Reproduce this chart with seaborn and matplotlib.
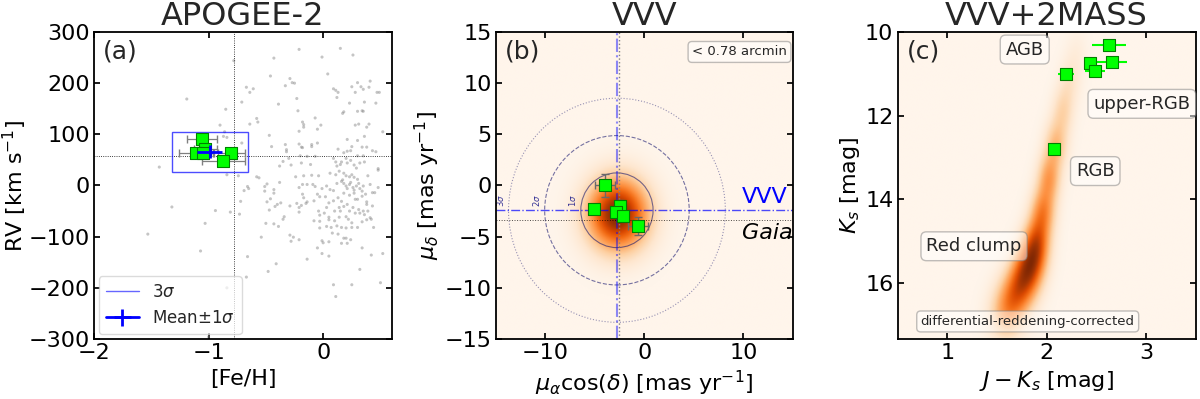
import numpy as np
import seaborn as sns
import matplotlib.pyplot as plt
from matplotlib.patches import Rectangle, Circle
from matplotlib.lines import Line2D

# ---------------- (a) APOGEE-2 ----------------
field_feh = [
    -1.19, -0.85, -0.90, -0.86, -0.87, -0.84, -1.43, -0.84, -1.32, -0.94, -0.81, -1.03, -1.53, -1.07, -0.84, -1.00,
    -0.78, -0.21, 0.15, 0.26, -0.43, -0.01, 0.04, -0.46, -0.29, -0.27, -0.33, -0.25, -0.67, -0.61, -0.64, 0.09,
    0.11, 0.13, 0.12, 0.25, 0.30, 0.33, 0.41, 0.28, 0.35, 0.40, 0.47, 0.49, -0.23, -0.71, -0.39, 0.23,
    0.36, 0.46, 0.18, 0.17, -0.22, 0.30, 0.34, 0.35, -0.07, -0.18, -0.17, -0.17, -0.58, -0.57, -0.64, -0.02,
    -0.05, -0.21, 0.28, 0.31, 0.40, 0.52, 0.38, -0.47, 0.21, 0.30, 0.36, -0.71, -0.45, -0.33, -0.32, -0.32,
    -0.21, -0.19, -0.18, -0.10, -0.05, -0.10, 0.13, 0.25, 0.18, 0.21, 0.24, 0.34, 0.38, 0.43, 0.46, 0.30,
    0.35, -0.38, -0.35, -0.30, -0.28, -0.20, -0.14, -0.07, -0.19, -0.11, 0.09, 0.11, 0.12, 0.15, 0.16, 0.20,
    0.21, 0.24, 0.27, 0.32, 0.29, 0.36, 0.48,
    -0.74, -0.58, -0.56, -0.66, -0.65, -0.69, -0.51, -0.49, -0.51, -0.43, -0.43, -0.38, -0.24, -0.17, -0.10, -0.04,
    0.06, 0.11, 0.14, 0.18, 0.20, 0.23, 0.25, 0.27, 0.30, 0.39, 0.48,
    -0.21, -0.18, -0.14, -0.09, -0.07, -0.01, 0.03, 0.06, 0.09, 0.12, 0.16, 0.17, 0.18, 0.20, 0.21, 0.23,
    0.24, 0.26, 0.27, 0.29, 0.31, 0.32, 0.34, 0.35, 0.37, 0.41, 0.43, 0.45, 0.48,
    0.18, 0.23, 0.27, 0.28, 0.30, 0.34, 0.38, 0.38, 0.43,
    -0.18, -0.17, -0.14, -0.08, -0.05, -0.03, 0.02, 0.05, 0.09, 0.13, 0.16,
    -0.49, -0.46, -0.42, -0.40, -0.37, -0.29, -0.23, -0.21, -0.19, -0.15,
    -0.72, -0.73, -0.47, -0.34, -0.35, -0.21,
    -0.04, -0.03, 0.01, 0.03, 0.05, 0.10, 0.14, 0.15, 0.18, 0.21, 0.23, 0.26, 0.28, 0.31, 0.32, 0.35,
    0.36, 0.38, 0.34, 0.39, 0.41, 0.42,
    0.20, 0.22, 0.25, 0.14, 0.10, 0.05, -0.03, -0.08,
    -0.50, -0.43, -0.39, -0.03, 0.03, 0.07, 0.12, 0.16, 0.20, 0.25, 0.30, 0.44,
    -0.54, -0.29, -0.28, -0.26, -0.21, -0.01, 0.00, 0.05, 0.08, 0.13, 0.16, 0.18, 0.20, 0.21, 0.24,
    -0.05, -0.01, 0.05, 0.34, -0.14, 0.42, 0.52, -0.66, -0.41, -0.48, -0.67, 0.32, 0.09, 0.25, 0.11, 0.50,
]
field_rv = [
    169, 149, 118, 105, 96, 94, 36, 21, -42, -49, -52, -74, -95, -128, -200, -296,
    244, 266, 268, 255, 249, 251, 218, 214, 209, 201, 195, 200, 192, 189, 182, 189,
    186, 182, 172, 193, 201, 193, 204, 182, 188, 192, 182, 182, 170, 163, 159, 161,
    163, 161, 144, 141, 146, 145, 146, 145, 132, 124, 119, 114, 131, 124, 120, 118,
    110, 106, 118, 120, 120, 105, 114, 98, 90, 88, 96, 83, 76, 80, 70, 66,
    81, 75, 74, 80, 83, 76, 71, 76, 64, 67, 68, 75, 75, 68, 66, 58,
    58, 38, 47, 53, 40, 58, 57, 57, 44, 41, 53, 46, 38, 41, 46, 53,
    44, 49, 40, 44, 34, 46, 33,
    19, 17, 15, -2, -6, -10, -2, 3, -11, -8, -15, 6, 17, 19, 20, 19,
    24, 21, 28, 24, 19, 17, 21, 16, 12, 19, 30,
    -4, 2, 2, 2, -2, -6, -1, -8, -10, 4, 8, 11, 4, -1, -6, 2,
    6, -4, -9, -1, 4, -6, -11, -1, -17, 2, -14, -14, -4,
    -15, -19, -15, -27, -27, -21, -32, -37, -40,
    -17, -24, -32, -30, -17, -22, -22, -34, -30, -24, -31,
    -32, -26, -41, -37, -34, -40, -35, -43, -39, -35,
    -31, -56, -48, -61, -66, -52,
    -50, -58, -54, -43, -62, -50, -43, -50, -41, -37, -50, -43, -54, -47, -54, -50,
    -57, -67, -71, -50, -63, -66,
    -61, -66, -73, -62, -69, -67, -70, -69,
    -74, -75, -80, -83, -80, -82, -79, -82, -83, -82, -82, -82,
    -101, -97, -109, -101, -106, -108, -112, -110, -93, -95, -113, -103, -103, -113, -106,
    -122, -133, -138, -122, -144, -136, -133, -139, -153, -168, -179, -164, -194, -194, -217, -190,
]

mem_feh = [-1.06, -1.03, -1.11, -1.05, -0.80, -0.87]
mem_rv = [90, 72, 63, 63, 63, 47]
mem_feh_err = [0.13, 0.10, 0.15, 0.10, 0.12, 0.19]

feh_mean, feh_sig = -0.99, 0.11
rv_mean, rv_sig = 66, 13
lit_feh, lit_rv = -0.78, 58

# ---------------- (b) VVV proper motions ----------------
pm_ra = [-4.02, -5.07, -2.47, -2.88, -2.20, -0.69]
pm_dec = [0.00, -2.33, -2.00, -2.62, -2.98, -3.93]
pm_ra_err = [1.0, 0.3, 0.5, 0.4, 0.4, 1.0]
pm_dec_err = [1.1, 0.3, 0.6, 0.4, 0.4, 0.9]

vvv_ra, vvv_dec = -2.78, -2.42
gaia_ra, gaia_dec = -2.58, -3.40
pm_sigma = 3.65
# field density peak (centre and widths)
pm_peak = (-2.7, -2.8)
pm_width = (2.1, 2.4)

# ---------------- (c) VVV+2MASS CMD ----------------
cmd_jk = [2.63, 2.44, 2.66, 2.49, 2.20, 2.07]
cmd_ks = [10.31, 10.75, 10.71, 10.93, 11.01, 12.79]
cmd_jk_err = [0.17, 0.05, 0.15, 0.10, 0.08, 0.0]

# ridge of the field-star density (colour, magnitude, strength, colour width)
ridge_jk = [1.58, 1.66, 1.76, 1.84, 1.90, 1.96, 2.02, 2.09, 2.16, 2.23, 2.30]
ridge_ks = [16.85, 16.40, 15.95, 15.50, 15.00, 14.30, 13.50, 12.70, 11.90, 11.20, 10.50]
ridge_amp = [0.45, 0.70, 0.90, 1.00, 0.90, 0.78, 0.68, 0.52, 0.34, 0.20, 0.10]
ridge_wid = [0.12, 0.12, 0.11, 0.10, 0.09, 0.085, 0.08, 0.08, 0.075, 0.075, 0.075]

sns.set_theme(style='ticks')
plt.rcParams.update({
    'font.family': ['DejaVu Sans'],
    'xtick.direction': 'in', 'ytick.direction': 'in',
    'xtick.top': True, 'ytick.right': True,
    'xtick.labelsize': 16, 'ytick.labelsize': 16,
    'xtick.major.size': 4, 'ytick.major.size': 4,
    'xtick.major.pad': 3, 'ytick.major.pad': 3,
    'xtick.color': 'black', 'ytick.color': 'black',
    'axes.edgecolor': 'black', 'axes.linewidth': 1.3,
    'axes.labelsize': 16, 'axes.labelcolor': 'black',
})

assert len(field_feh) == len(field_rv)

fig = plt.figure(figsize=(12, 3.99), dpi=100)
ax_a = fig.add_axes([0.0783, 0.1504, 0.2483, 0.7694])
ax_b = fig.add_axes([0.4133, 0.1504, 0.2475, 0.7694])
ax_c = fig.add_axes([0.748, 0.1504, 0.2483, 0.7694])

box_style = dict(boxstyle='round,pad=0.3', fc='white', ec='grey', alpha=0.5)

# ----- panel a -----
ax = ax_a
sns.scatterplot(x=field_feh, y=field_rv, ax=ax, color='grey', s=5, alpha=0.45,
                edgecolor='none', zorder=1)
ax.axvline(lit_feh, color='black', ls=':', lw=0.6, zorder=2)
ax.axhline(lit_rv, color='black', ls=':', lw=0.6, zorder=2)
ax.add_patch(Rectangle((feh_mean - 3 * feh_sig, rv_mean - 3 * rv_sig), 6 * feh_sig, 6 * rv_sig,
                       fill=False, ec='blue', alpha=0.7, lw=1.0, zorder=3))
ax.errorbar(mem_feh, mem_rv, xerr=mem_feh_err, fmt='none', ecolor='grey', elinewidth=0.9,
            capsize=3, zorder=4)
sns.scatterplot(x=mem_feh, y=mem_rv, ax=ax, marker='s', color='lime', edgecolor='green',
                linewidth=0.8, s=65, zorder=5)
mean_bar = ax.errorbar(feh_mean, rv_mean, xerr=feh_sig, yerr=rv_sig, color='blue', lw=2, zorder=6)
ax.set_xlim(-2, 0.6)
ax.set_ylim(-300, 300)
ax.set_xticks([-2, -1, 0])
ax.set_yticks(range(-300, 301, 100))
ax.set_xlabel('[Fe/H]')
ax.set_ylabel(r'RV [km s$^{-1}$]', labelpad=0)
ax.set_title('APOGEE-2', fontsize=23, pad=2)
ax.text(0.03, 0.975, '(a)', transform=ax.transAxes, fontsize=18, va='top', ha='left')
ax.legend([Line2D([], [], color='blue', alpha=0.6, lw=1), mean_bar],
          [r'3$\sigma$', r'Mean$\pm1\sigma$'], loc='lower left', fontsize=12,
          frameon=True, fancybox=True, framealpha=0.7, handlelength=2.0, borderaxespad=0.3)

# ----- panel b -----
ax = ax_b
g = np.linspace(-15, 15, 400)
gx, gy = np.meshgrid(g, g)
dens = np.exp(-0.5 * (((gx - pm_peak[0]) / pm_width[0]) ** 2 + ((gy - pm_peak[1]) / pm_width[1]) ** 2))
ax.imshow(dens, extent=[-15, 15, -15, 15], origin='lower', cmap='Oranges', aspect='auto',
          vmin=0, vmax=1.0, zorder=0)
for k, ls, al in [(1, '-', 0.6), (2, '--', 0.6), (3, ':', 0.45)]:
    ax.add_patch(Circle((vvv_ra, vvv_dec), k * pm_sigma, fill=False, ec='midnightblue',
                        ls=ls, lw=0.8, alpha=al, zorder=2))
    ax.text(vvv_ra - k * pm_sigma - 0.8, vvv_dec + 0.9, rf'{k}$\sigma$', rotation=90, fontsize=6,
            color='navy', alpha=0.8, ha='center', va='center', zorder=2)
ax.axvline(vvv_ra, color='blue', ls='-.', lw=1.5, alpha=0.45, zorder=2)
ax.axhline(vvv_dec, color='blue', ls='-.', lw=1.0, alpha=0.7, zorder=2)
ax.axvline(gaia_ra, color='grey', ls=':', lw=1.0, zorder=2)
ax.axhline(gaia_dec, color='black', ls=':', lw=0.7, alpha=0.7, zorder=2)
ax.errorbar(pm_ra, pm_dec, xerr=pm_ra_err, yerr=pm_dec_err, fmt='none', ecolor='dimgrey',
            elinewidth=1.0, capsize=3, zorder=4)
sns.scatterplot(x=pm_ra, y=pm_dec, ax=ax, marker='s', color='lime', edgecolor='green',
                linewidth=0.8, s=65, zorder=5)
ax.text(14.5, vvv_dec + 0.35, 'VVV', color='blue', fontsize=16, ha='right', va='bottom')
ax.text(15.0, gaia_dec - 0.25, 'Gaia', color='black', fontsize=16, style='italic',
        ha='right', va='top')
ax.text(0.82, 0.935, '< 0.78 arcmin', transform=ax.transAxes, fontsize=9.5, ha='center',
        va='center', bbox=box_style)
ax.set_xlim(-15, 15)
ax.set_ylim(-15, 15)
ax.set_xticks([-10, 0, 10])
ax.set_yticks(range(-15, 16, 5))
ax.set_xlabel(r'$\mu_{\alpha}\cos(\delta)$ [mas yr$^{-1}$]')
ax.set_ylabel(r'$\mu_{\delta}$ [mas yr$^{-1}$]', labelpad=2)
ax.set_title('VVV', fontsize=23, pad=2)
ax.text(0.03, 0.975, '(b)', transform=ax.transAxes, fontsize=18, va='top', ha='left')

# ----- panel c -----
ax = ax_c
cx = np.linspace(0.5, 3.5, 400)
cy = np.linspace(10, 17.35, 400)
mx, my = np.meshgrid(cx, cy)
cmd_dens = np.zeros_like(mx)
for c0, m0, a0, w0 in zip(ridge_jk, ridge_ks, ridge_amp, ridge_wid):
    cmd_dens += a0 * np.exp(-0.5 * (((mx - c0) / w0) ** 2 + ((my - m0) / 0.4) ** 2))
ax.imshow(cmd_dens, extent=[0.5, 3.5, 10, 17.35], origin='lower', cmap='Oranges', aspect='auto',
          vmin=0, vmax=cmd_dens.max() * 1.0, zorder=0)
ax.errorbar(cmd_jk, cmd_ks, xerr=cmd_jk_err, fmt='none', ecolor='lime', elinewidth=1.5, zorder=4)
sns.scatterplot(x=cmd_jk, y=cmd_ks, ax=ax, marker='s', color='lime', edgecolor='green',
                linewidth=0.8, s=65, zorder=5)
ax.text(1.78, 10.42, 'AGB', fontsize=13, ha='center', va='center', bbox=box_style)
ax.text(2.96, 11.72, 'upper-RGB', fontsize=13, ha='center', va='center', bbox=box_style)
ax.text(2.49, 13.33, 'RGB', fontsize=13, ha='center', va='center', bbox=box_style)
ax.text(1.27, 15.13, 'Red clump', fontsize=13, ha='center', va='center', bbox=box_style)
ax.text(1.81, 16.93, 'differential-reddening-corrected', fontsize=9.5, ha='center', va='center',
        bbox=box_style)
ax.set_xlim(0.5, 3.5)
ax.set_ylim(17.35, 10)
ax.set_xticks([1, 2, 3])
ax.set_yticks([10, 12, 14, 16])
ax.set_xlabel(r'$J-K_s$ [mag]')
ax.set_ylabel(r'$K_s$ [mag]', labelpad=2)
ax.set_title('VVV+2MASS', fontsize=23, pad=2)
ax.text(0.03, 0.975, '(c)', transform=ax.transAxes, fontsize=18, va='top', ha='left')

fig.savefig('out.png', dpi=100)
